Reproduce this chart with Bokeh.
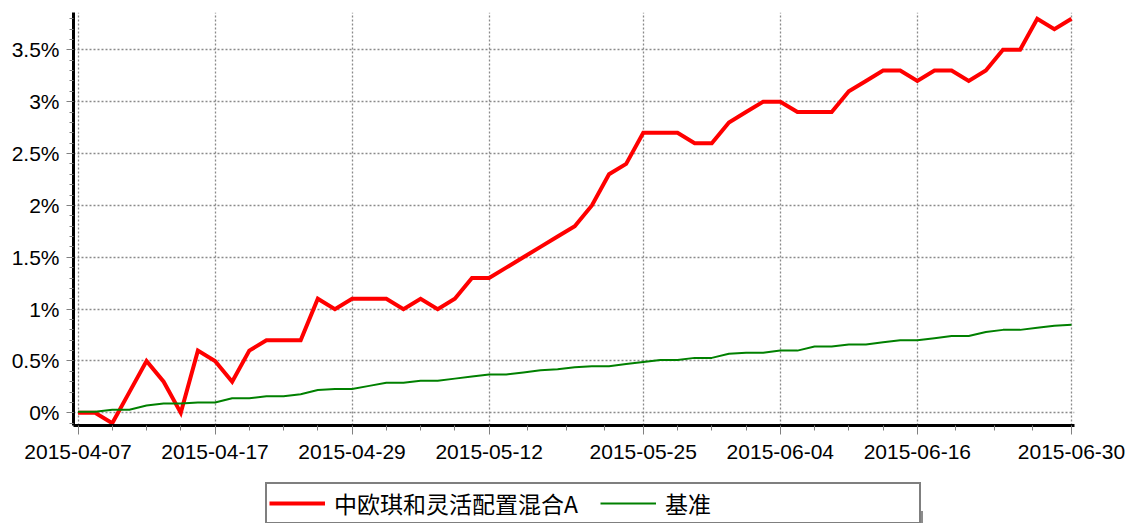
from bokeh.plotting import figure
from bokeh.layouts import column
from bokeh.models import FixedTicker, Range1d, Legend, LegendItem
from bokeh.embed import file_html
from bokeh.resources import INLINE

# ---------------- data ----------------
dates = [
    "2015-04-07", "2015-04-08", "2015-04-09", "2015-04-10", "2015-04-13", "2015-04-14",
    "2015-04-15", "2015-04-16", "2015-04-17", "2015-04-20", "2015-04-21", "2015-04-22",
    "2015-04-23", "2015-04-24", "2015-04-27", "2015-04-28", "2015-04-29", "2015-04-30",
    "2015-05-04", "2015-05-05", "2015-05-06", "2015-05-07", "2015-05-08", "2015-05-11",
    "2015-05-12", "2015-05-13", "2015-05-14", "2015-05-15", "2015-05-18", "2015-05-19",
    "2015-05-20", "2015-05-21", "2015-05-22", "2015-05-25", "2015-05-26", "2015-05-27",
    "2015-05-28", "2015-05-29", "2015-06-01", "2015-06-02", "2015-06-03", "2015-06-04",
    "2015-06-05", "2015-06-08", "2015-06-09", "2015-06-10", "2015-06-11", "2015-06-12",
    "2015-06-15", "2015-06-16", "2015-06-17", "2015-06-18", "2015-06-19", "2015-06-23",
    "2015-06-24", "2015-06-25", "2015-06-26", "2015-06-29", "2015-06-30",
]
fund = [
    0.0, 0.0, -0.1, 0.2, 0.5, 0.3, 0.0, 0.6, 0.5, 0.3,
    0.6, 0.7, 0.7, 0.7, 1.1, 1.0, 1.1, 1.1, 1.1, 1.0,
    1.1, 1.0, 1.1, 1.3, 1.3, 1.4, 1.5, 1.6, 1.7, 1.8,
    2.0, 2.3, 2.4, 2.7, 2.7, 2.7, 2.6, 2.6, 2.8, 2.9,
    3.0, 3.0, 2.9, 2.9, 2.9, 3.1, 3.2, 3.3, 3.3, 3.2,
    3.3, 3.3, 3.2, 3.3, 3.5, 3.5, 3.8, 3.7, 3.8,
]
bench = [
    0.01, 0.01, 0.03, 0.03, 0.07, 0.09, 0.09, 0.10, 0.10, 0.14,
    0.14, 0.16, 0.16, 0.18, 0.22, 0.23, 0.23, 0.26, 0.29, 0.29,
    0.31, 0.31, 0.33, 0.35, 0.37, 0.37, 0.39, 0.41, 0.42, 0.44,
    0.45, 0.45, 0.47, 0.49, 0.51, 0.51, 0.53, 0.53, 0.57, 0.58,
    0.58, 0.60, 0.60, 0.64, 0.64, 0.66, 0.66, 0.68, 0.70, 0.70,
    0.72, 0.74, 0.74, 0.78, 0.80, 0.80, 0.82, 0.84, 0.85,
]
tick_dates = ["2015-04-07", "2015-04-17", "2015-04-29", "2015-05-12",
              "2015-05-25", "2015-06-04", "2015-06-16", "2015-06-30"]
y_ticks = [0, 0.5, 1, 1.5, 2, 2.5, 3, 3.5]
series_names = ["中欧琪和灵活配置混合A", "基准"]
series_colors = ["#ff0000", "#008000"]
series_widths = [4, 2]

# ---------------- main chart ----------------
x = list(range(len(dates)))
n_last = len(dates) - 1

p = figure(width=1127, height=470, output_backend="svg", toolbar_location=None,
           x_range=Range1d(-0.263, n_last + 0.175), y_range=Range1d(-0.122, 3.86),
           min_border_left=73, min_border_right=53, min_border_top=12, min_border_bottom=45)
p.outline_line_color = None
p.background_fill_color = "white"

# x ticks
x_major = [dates.index(d) for d in tick_dates]
x_minor = []
for a, b in zip(x_major[:-1], x_major[1:]):
    for k in range(1, 4):
        x_minor.append(a + (b - a) * k / 4)
p.xaxis.ticker = FixedTicker(ticks=x_major, minor_ticks=x_minor)
p.xaxis.major_label_overrides = {i: dates[i] for i in x_major}

# y ticks
y_minor = [round(-0.1 + 0.1 * k, 2) for k in range(40)]
p.yaxis.ticker = FixedTicker(ticks=y_ticks, minor_ticks=y_minor)
p.yaxis.major_label_overrides = {v: f"{v:g}%" for v in y_ticks}

for ax in (p.xaxis[0], p.yaxis[0]):
    ax.axis_line_color = "black"
    ax.axis_line_width = 3
    ax.major_tick_line_color = "#808080"
    ax.minor_tick_line_color = "#808080"
    ax.major_tick_in = 0
    ax.minor_tick_in = 0
    ax.major_label_text_font = "Liberation Sans"
    ax.major_label_text_font_size = "21px"
    ax.major_label_text_color = "black"

p.xaxis.major_tick_out = 9
p.xaxis.minor_tick_out = 5
p.xaxis.major_label_standoff = 10
p.yaxis.major_tick_out = 7
p.yaxis.minor_tick_out = 4
p.yaxis.major_label_standoff = 7

for g in (p.xgrid[0], p.ygrid[0]):
    g.grid_line_color = "#8a8a8a"
    g.grid_line_dash = "2 2"
    g.grid_line_width = 1.3

r_fund = p.line(x, fund, line_color=series_colors[0], line_width=series_widths[0], line_join="miter")
r_bench = p.line(x, bench, line_color=series_colors[1], line_width=series_widths[1])

# ---------------- legend strip ----------------
p2 = figure(width=1127, height=53, output_backend="svg", toolbar_location=None,
            x_range=Range1d(0, 1), y_range=Range1d(0, 1),
            x_axis_location=None, y_axis_location=None,
            min_border_left=0, min_border_right=0, min_border_top=0, min_border_bottom=0)
p2.outline_line_color = None
p2.xgrid.visible = False
p2.ygrid.visible = False

# legend swatches (kept outside the visible range of the strip)
off = [-10, -9]
sw1 = p2.line(off, off, line_color=series_colors[0], line_width=series_widths[0])
sw2 = p2.line(off, off, line_color=series_colors[1], line_width=series_widths[1])
sh1 = p2.line(off, off, line_alpha=0)
sh2 = p2.line(off, off, line_alpha=0)

def make_legend(items, loc):
    return Legend(items=items, orientation="horizontal", location=loc,
                  label_text_font="Noto Sans CJK SC", label_text_font_size="23px",
                  label_width=252, glyph_width=56, glyph_height=16, label_standoff=9,
                  spacing=14, padding=2, margin=0)

# frame of the strip is aligned with the main chart frame (left = 73)
frame_left = 73
shadow = make_legend([LegendItem(label=" ", renderers=[sh1]),
                      LegendItem(label=" ", renderers=[sh2])], (265 + 6 - frame_left, -8))
shadow.background_fill_color = "#8c8c8c"
shadow.background_fill_alpha = 1
shadow.border_line_alpha = 0
p2.add_layout(shadow, "center")

legend = make_legend([LegendItem(label=series_names[0], renderers=[sw1]),
                      LegendItem(label=series_names[1], renderers=[sw2])], (265 - frame_left, -1))
legend.background_fill_color = "white"
legend.background_fill_alpha = 1
legend.border_line_color = "black"
legend.border_line_width = 2.5
legend.label_text_color = "black"
p2.add_layout(legend, "center")

layout = column(p, p2, spacing=0)
open("out.html", "w").write(file_html(layout, INLINE))
